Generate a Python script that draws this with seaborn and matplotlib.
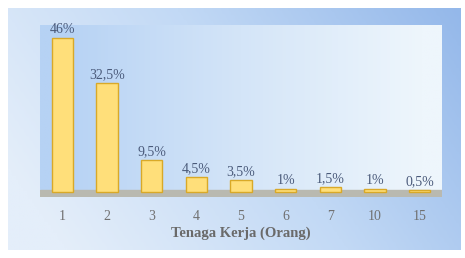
import numpy as np
import pandas as pd
import matplotlib
matplotlib.use("Agg")
import matplotlib.pyplot as plt
import seaborn as sns
from matplotlib.colors import LinearSegmentedColormap

categories = ["1", "2", "3", "4", "5", "6", "7", "10", "15"]
values = [46, 32.5, 9.5, 4.5, 3.5, 1, 1.5, 1, 0.5]
labels = ["46%", "32,5%", "9,5%", "4,5%", "3,5%", "1%", "1,5%", "1%", "0,5%"]
xlabel = "Tenaga Kerja (Orang)"

df = pd.DataFrame({"cat": categories, "val": values})

sns.set_theme(style="white")
plt.rcParams["font.family"] = ["Liberation Serif", "DejaVu Serif"]

fig = plt.figure(figsize=(4.65, 2.58), dpi=100)
fig.patch.set_facecolor("white")

# outer gradient panel
bg = fig.add_axes([8/465, 8/258, 452/465, 242/258])
bg.set_axis_off()
xx = np.linspace(0, 1, 256)
yy = np.linspace(0, 1, 64)
X, Y = np.meshgrid(xx, yy)
Z = np.clip(0.8 * X + 0.3 * (1 - Y) - 0.1, 0, 1)
cm_out = LinearSegmentedColormap.from_list("o", ["#e4eefa", "#c2d9f5", "#94b8ea"])
bg.imshow(Z, cmap=cm_out, aspect="auto", extent=[0, 1, 0, 1], origin="upper")
bg.set_xlim(0, 1); bg.set_ylim(0, 1)

# inner lighter plot area
ax = fig.add_axes([40/465, 61/258, 402/465, 172/258])
ax.set_xlim(-0.5, len(categories) - 0.5)
ax.set_ylim(-1.5, 50)
Zi = np.clip(X * 1.1 - 0.05, 0, 1)
cm_in = LinearSegmentedColormap.from_list("i", ["#b6d2f4", "#d4e5f8", "#eef6fc"])
ax.imshow(Zi, cmap=cm_in, aspect="auto", extent=[-0.5, len(categories) - 0.5, -1.5, 50],
          origin="lower", zorder=0)
ax.axhspan(-1.5, 0.6, color="#b9b9b0", zorder=1)

sns.barplot(data=df, x="cat", y="val", ax=ax, color="#ffdf7a", width=0.48,
            edgecolor="#d9a928", linewidth=1.0, zorder=2, saturation=1)

for i, (v, lab) in enumerate(zip(values, labels)):
    ax.text(i, v + 0.6, lab, ha="center", va="bottom", fontsize=10, color="#4a5a7a", zorder=3)

for s in ax.spines.values():
    s.set_visible(False)
ax.set_yticks([])
ax.set_ylabel("")
ax.tick_params(axis="x", length=0, pad=9, labelsize=10, labelcolor="#707070")
ax.set_xlabel(xlabel, fontsize=10.5, fontweight="bold", color="#6a6a6a", labelpad=3)

fig.savefig("out.png", dpi=100)
